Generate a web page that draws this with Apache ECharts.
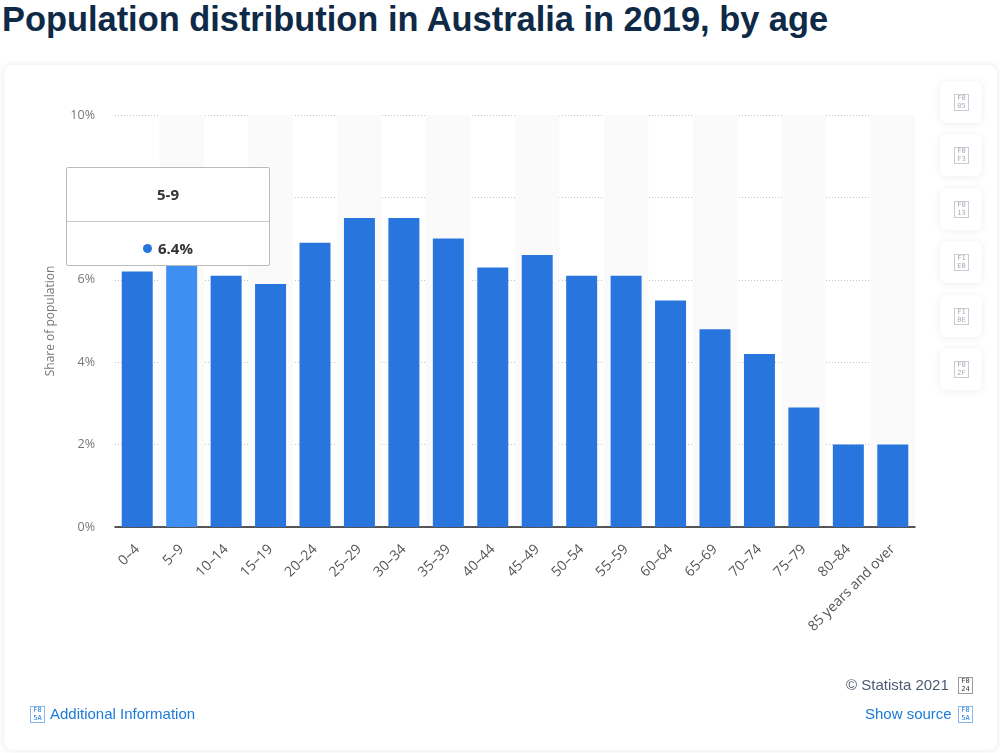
<!DOCTYPE html>
<html>
<head>
<meta charset="utf-8">
<script src="https://cdn.jsdelivr.net/npm/echarts@6/dist/echarts.min.js"></script>
<style>
  html, body { margin: 0; padding: 0; background: #fff; width: 1000px; height: 753px; overflow: hidden; font-family: "Liberation Sans", Arial, sans-serif; }
  #title { position: absolute; left: 2px; top: 0px; font-size: 34.4px; font-weight: bold; color: #0e2a47; white-space: nowrap; }
  #card { position: absolute; left: 4px; top: 65px; width: 993px; height: 685px; background: #fff; border-radius: 8px; box-shadow: 0 0 6px rgba(0,0,0,0.10); }
  #chart { position: absolute; left: 0; top: 0; width: 1000px; height: 753px; }
  .ibtn { position: absolute; left: 940px; width: 42px; height: 42px; background: #fff; border-radius: 7px; box-shadow: 0 1px 8px rgba(0,0,0,0.07); }
  .tofu { position: absolute; border: 1px solid #c8cdd4; font-family: "DejaVu Sans Mono", monospace; font-size: 7px; line-height: 7px; color: #aab; text-align: center; padding: 0 1px; }
  .ibtn .tofu { left: 14px; top: 13px; width: 11px; height: 15px; line-height: 7.5px; }
  .foot { position: absolute; font-family: "Liberation Sans", Arial, sans-serif; font-size: 15px; white-space: nowrap; }
</style>
</head>
<body>
<div id="title">Population distribution in Australia in 2019, by age</div>
<div id="card"></div>
<div id="chart"></div>
<div class="ibtn" style="top:81px"><div class="tofu">F0<br>05</div></div>
<div class="ibtn" style="top:134px"><div class="tofu">F0<br>F3</div></div>
<div class="ibtn" style="top:188px"><div class="tofu">F0<br>13</div></div>
<div class="ibtn" style="top:241px"><div class="tofu">F1<br>E0</div></div>
<div class="ibtn" style="top:295px"><div class="tofu">F1<br>0E</div></div>
<div class="ibtn" style="top:348px"><div class="tofu">F0<br>2F</div></div>
<div class="foot" style="left:846px; top:676px; color:#4b5b70;">© Statista 2021</div>
<div class="tofu" style="left:958px; top:677px; width:11px; height:15px; line-height:7.5px; color:#333; border-color:#999;">F0<br>24</div>
<div class="foot" style="left:865px; top:705px; color:#1a7ad9;">Show source</div>
<div class="tofu" style="left:958px; top:706px; width:11px; height:15px; line-height:7.5px; color:#1a7ad9; border-color:#8bb8ea;">F0<br>5A</div>
<div class="tofu" style="left:30px; top:706px; width:11px; height:15px; line-height:7.5px; color:#1a7ad9; border-color:#8bb8ea;">F0<br>5A</div>
<div class="foot" style="left:50px; top:705px; color:#1a7ad9;">Additional Information</div>
<script>
const categories = ["0–4","5–9","10–14","15–19","20–24","25–29","30–34","35–39","40–44","45–49","50–54","55–59","60–64","65–69","70–74","75–79","80–84","85 years and over"];
const shares = [6.2, 6.4, 6.1, 5.9, 6.9, 7.5, 7.5, 7.0, 6.3, 6.6, 6.1, 6.1, 5.5, 4.8, 4.2, 2.9, 2.0, 2.0];
const yTicks = [0, 2, 4, 6, 8, 10];
const highlightIndex = 1;

const baseColor = '#2876dd';
const hiColor = '#3f8ff3';

const chart = echarts.init(document.getElementById('chart'), null, { renderer: 'canvas' });
chart.setOption({
  animation: false,
  backgroundColor: 'transparent',
  grid: { left: 115, right: 85, top: 115, bottom: 226 },
  tooltip: {
    trigger: 'item',
    alwaysShowContent: true,
    transitionDuration: 0,
    padding: 0,
    borderColor: '#bbbbbb',
    borderWidth: 1,
    borderRadius: 2,
    backgroundColor: '#fff',
    extraCssText: 'box-shadow:none;',
    position: function () { return [66, 167]; },
    formatter: function (p) {
      return '<div style="width:202px;height:97px;font-family:\'Open Sans\',sans-serif;">' +
        '<div style="height:53px;line-height:53px;text-align:center;font-size:15px;font-weight:bold;color:#333;border-bottom:1px solid #c8c8c8;">' + p.name.replace('–','-') + '</div>' +
        '<div style="height:44px;line-height:52px;text-align:center;font-size:15px;font-weight:bold;color:#333;">' +
        '<span style="display:inline-block;width:9px;height:9px;border-radius:50%;background:' + baseColor + ';margin-right:6px;vertical-align:1px;"></span>' + p.value + '%</div></div>';
    }
  },
  xAxis: {
    type: 'category',
    data: categories,
    axisLine: { lineStyle: { color: '#222', width: 1.5 } },
    axisTick: { show: false },
    axisLabel: { rotate: 45, color: '#555', fontSize: 14, fontFamily: 'Open Sans', margin: 20, interval: 0 },
    splitArea: { show: true, areaStyle: { color: ['rgba(255,255,255,0)', '#fafafa'] } }
  },
  yAxis: {
    type: 'value',
    min: yTicks[0],
    max: yTicks[yTicks.length - 1],
    interval: 2,
    name: 'Share of population',
    nameLocation: 'middle',
    nameRotate: 90,
    nameGap: 58,
    nameTextStyle: { color: '#777', fontSize: 12, fontFamily: 'Open Sans' },
    axisLine: { show: false },
    axisTick: { show: false },
    axisLabel: { formatter: '{value}%', color: '#777', fontSize: 12.5, fontFamily: 'Open Sans', margin: 20 },
    splitLine: { lineStyle: { color: '#c4c4c4', type: [1, 2], width: 1 } }
  },
  series: [{
    type: 'bar',
    data: shares.map((v, i) => i === highlightIndex ? { value: v, itemStyle: { color: hiColor } } : v),
    barWidth: 31,
    itemStyle: { color: baseColor },
    emphasis: { disabled: true },
    z: 5
  }]
});
chart.dispatchAction({ type: 'showTip', seriesIndex: 0, dataIndex: highlightIndex });
</script>
</body>
</html>
